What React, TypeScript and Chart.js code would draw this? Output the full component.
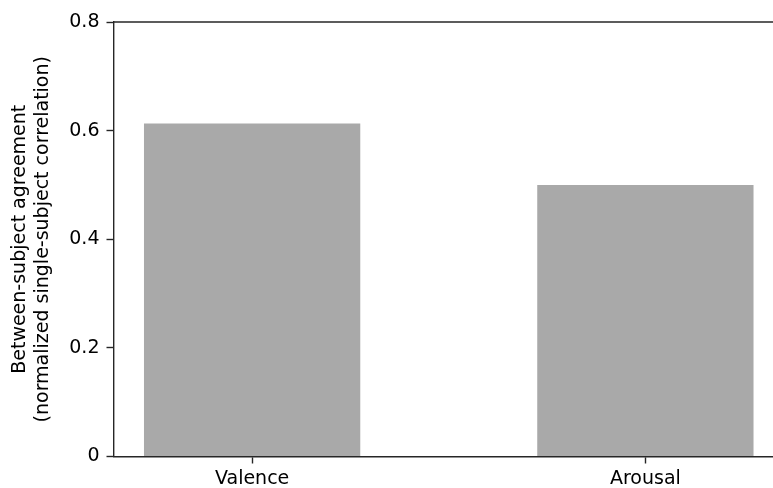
import React, { useEffect, useRef } from "react";
import { Chart, registerables } from "chart.js";

Chart.register(...registerables);

const categories = ["Valence", "Arousal"];
const values = [0.613, 0.5];
const yTicks = [0, 0.2, 0.4, 0.6, 0.8];
const yTitle = ["Between-subject agreement", "(normalized single-subject correlation)"];

const FONT = "'DejaVu Sans', sans-serif";
const AXIS_COLOR = "#262626";

const topSpine = {
  id: "topSpine",
  afterDraw(chart: any) {
    const { ctx, chartArea } = chart;
    ctx.save();
    ctx.strokeStyle = AXIS_COLOR;
    ctx.lineWidth = 1.4;
    ctx.beginPath();
    ctx.moveTo(chartArea.left, chartArea.top);
    ctx.lineTo(chartArea.right, chartArea.top);
    ctx.stroke();
    ctx.restore();
  },
};

export default function App() {
  const ref = useRef<HTMLCanvasElement | null>(null);
  useEffect(() => {
    const canvas = ref.current!;
    canvas.width = 800;
    canvas.height = 488;
    const chart = new Chart(canvas, {
      type: "bar",
      data: {
        datasets: [
          {
            data: categories.map((c, i) => ({ x: i, y: values[i] })),
            backgroundColor: "#a9a9a9",
            borderWidth: 0,
            barPercentage: 0.55,
            categoryPercentage: 1,
          },
        ],
      },
      plugins: [topSpine],
      options: {
        responsive: false,
        animation: false,
        devicePixelRatio: 1,
        layout: { padding: { top: 22, right: 16, left: 0, bottom: 0 } },
        plugins: { legend: { display: false }, tooltip: { enabled: false } },
        scales: {
          x: {
            type: "linear",
            offset: false,
            bounds: "data",
            min: -0.3525,
            max: 1.3525,
            afterBuildTicks: (scale: any) => {
              scale.ticks = categories.map((_, i) => ({ value: i }));
            },
            afterFit: (scale: any) => {
              scale.height = 31.5;
            },
            ticks: {
              autoSkip: false,
              maxRotation: 0,
              padding: 4,
              color: "#000",
              font: { family: FONT, size: 19 },
              callback: (v: any) => categories[v] ?? "",
            },
            grid: {
              offset: false,
              drawOnChartArea: false,
              drawTicks: true,
              tickLength: 7,
              tickWidth: 1.4,
              tickColor: AXIS_COLOR,
            },
            border: { display: true, color: AXIS_COLOR, width: 1.4 },
          },
          y: {
            min: 0,
            max: 0.8,
            afterBuildTicks: (scale: any) => {
              scale.ticks = yTicks.map((v) => ({ value: v }));
            },
            afterFit: (scale: any) => {
              scale.width = 113.5;
            },
            ticks: {
              padding: 7,
              color: "#000",
              font: { family: FONT, size: 19 },
              callback: (v: any) => String(Number(v.toFixed(1))),
            },
            grid: {
              drawOnChartArea: false,
              drawTicks: true,
              tickLength: 7,
              tickWidth: 1.4,
              tickColor: AXIS_COLOR,
            },
            border: { display: true, color: AXIS_COLOR, width: 1.4 },
            title: {
              display: true,
              text: yTitle,
              color: "#000",
              font: { family: FONT, size: 19, lineHeight: 1.2 },
              padding: { top: 9, bottom: 0 },
            },
          },
        },
      },
    });
    return () => chart.destroy();
  }, []);
  return (
    <div
      style={{
        position: "fixed",
        left: 0,
        top: 0,
        width: 773,
        height: 488,
        overflow: "hidden",
        background: "#fff",
      }}
    >
      <canvas ref={ref} style={{ display: "block", width: 800, height: 488 }} />
    </div>
  );
}
